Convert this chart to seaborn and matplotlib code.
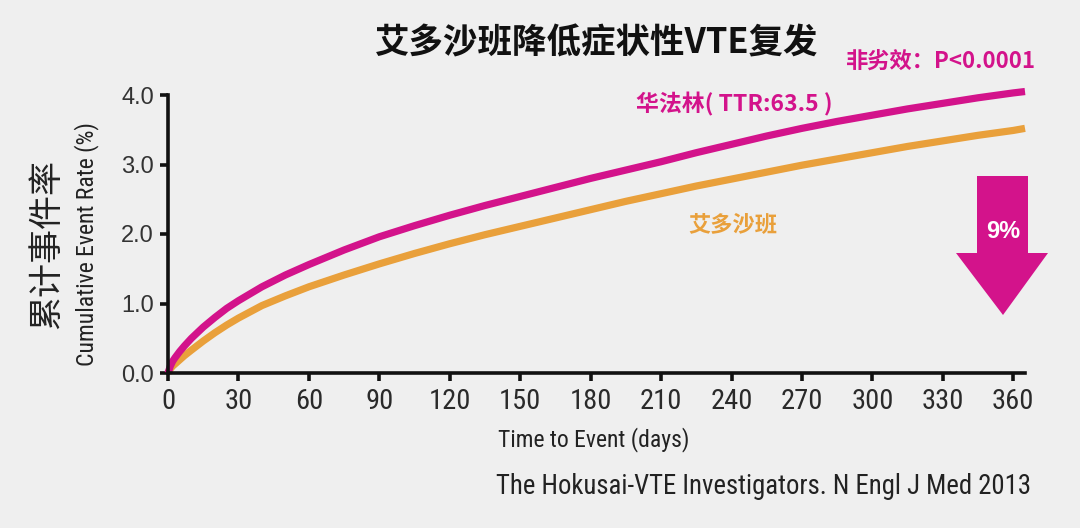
import numpy as np
import pandas as pd
import matplotlib
matplotlib.use("Agg")
import matplotlib.pyplot as plt
from matplotlib.patches import Polygon
import seaborn as sns
from matplotlib import font_manager

# ---- data ----
days = [0, 1, 2, 3, 5, 7, 10, 15, 20, 25, 30, 40, 50, 60, 75, 90, 105, 120, 135, 150, 165,
        180, 195, 210, 225, 240, 255, 270, 285, 300, 315, 330, 345, 360, 365]
warfarin = [0, 0.10, 0.17, 0.22, 0.31, 0.39, 0.50, 0.66, 0.80, 0.93, 1.04, 1.24, 1.41, 1.56,
            1.77, 1.96, 2.12, 2.27, 2.41, 2.54, 2.67, 2.80, 2.92, 3.04, 3.17, 3.29, 3.41, 3.52,
            3.62, 3.71, 3.80, 3.88, 3.96, 4.03, 4.05]
edoxaban = [0, 0.06, 0.10, 0.13, 0.19, 0.25, 0.33, 0.46, 0.58, 0.69, 0.79, 0.97, 1.11, 1.24,
            1.41, 1.57, 1.72, 1.86, 1.99, 2.11, 2.23, 2.35, 2.47, 2.58, 2.69, 2.79, 2.89, 2.99,
            3.08, 3.17, 3.26, 3.34, 3.42, 3.49, 3.52]
series_names = ["华法林", "艾多沙班"]
x_ticks = [0, 30, 60, 90, 120, 150, 180, 210, 240, 270, 300, 330, 360]
y_ticks = [0.0, 1.0, 2.0, 3.0, 4.0]
reduction_label = "9%"

MAGENTA = "#D3138B"
ORANGE = "#E9A03B"
BG = "#EFEFEF"

df = pd.DataFrame({
    "day": days + days,
    "rate": warfarin + edoxaban,
    "drug": [series_names[0]] * len(days) + [series_names[1]] * len(days),
})

sns.set_theme(style="ticks")
available = {f.name for f in font_manager.fontManager.ttflist}
cands = ["Roboto Condensed", "PT Sans Narrow", "Fira Sans Condensed", "Archivo Narrow",
         "IBM Plex Sans Condensed", "Open Sans Condensed", "Liberation Sans Narrow",
         "Encode Sans Condensed", "Barlow Condensed", "Asap Condensed"]
narrow = [f for f in cands if f in available][:1]
CJK = ["Noto Sans CJK SC", "DejaVu Sans"]
NARROW = narrow + ["Noto Sans CJK SC", "DejaVu Sans"]
ARIAL = ["Liberation Sans", "DejaVu Sans"]
plt.rcParams["font.family"] = CJK

fig = plt.figure(figsize=(10.8, 5.28), dpi=100, facecolor=BG)
ax = fig.add_axes([168 / 1080, 1 - 373 / 528, (1025 - 168) / 1080, (373 - 95) / 528])
ax.set_facecolor(BG)

sns.lineplot(data=df, x="day", y="rate", hue="drug",
             palette={series_names[0]: MAGENTA, series_names[1]: ORANGE},
             hue_order=[series_names[1], series_names[0]],
             linewidth=5.2, legend=False, ax=ax, clip_on=False)
for ln in ax.lines:
    ln.set_solid_capstyle("butt")
    ln.set_solid_joinstyle("round")

ax.set_xlim(0, 365)
ax.set_ylim(0, 4.0)
ax.set_xticks(x_ticks)
ax.set_xticklabels([str(t) for t in x_ticks], family=NARROW, fontsize=20.5, color="#2a2a2a")
ax.set_yticks(y_ticks)
ax.set_yticklabels([f"{t:.1f}" for t in y_ticks], family=ARIAL, fontsize=17, color="#333333")
for s in ["top", "right"]:
    ax.spines[s].set_visible(False)
for s in ["left", "bottom"]:
    ax.spines[s].set_linewidth(2.6)
    ax.spines[s].set_color("#111111")
ax.tick_params(axis="both", length=6, width=2.6, color="#111111")
ax.tick_params(axis="x", pad=5)
ax.tick_params(axis="y", pad=4)
ax.set_xlabel("")
ax.set_ylabel("")

# axis labels
fig.text(594 / 1080, 1 - 440 / 528, "Time to Event (days)", family=NARROW, fontsize=17,
         ha="center", va="center", color="#222222")
fig.text(47 / 1080, 1 - 244 / 528, "累计事件率", family=CJK, fontsize=24.5, rotation=90,
         ha="center", va="center", color="#222222")
fig.text(87 / 1080, 1 - 244 / 528, "Cumulative Event Rate (%)", family=NARROW, fontsize=17,
         rotation=90, ha="center", va="center", color="#222222")

# title
fig.text(597 / 1080, 1 - 43 / 528, "艾多沙班降低症状性VTE复发", family=CJK, fontsize=24.8,
         fontweight="bold", ha="center", va="center", color="#111111")
fig.text(1036 / 1080, 1 - 61 / 528, "非劣效：P<0.0001", family=CJK, fontsize=16,
         fontweight="bold", ha="right", va="center", color=MAGENTA)

# series labels
fig.text(636 / 1080, 1 - 104 / 528, "华法林( TTR:63.5 )", family=CJK, fontsize=16.5,
         fontweight="bold", ha="left", va="center", color=MAGENTA)
fig.text(688 / 1080, 1 - 226 / 528, "艾多沙班", family=CJK, fontsize=16,
         fontweight="bold", ha="left", va="center", color=ORANGE)

# arrow
pts = [(977, 176), (1028, 176), (1028, 253), (1048, 253), (1003, 315), (956, 253), (977, 253)]
arrow = Polygon([(x / 1080, 1 - y / 528) for x, y in pts], closed=True,
                transform=fig.transFigure, facecolor=MAGENTA, edgecolor="none")
fig.patches.append(arrow)
fig.text(1003 / 1080, 1 - 232 / 528, reduction_label, family=ARIAL, fontsize=17,
         fontweight="bold", ha="center", va="center", color="white")

# footer
fig.text(1031 / 1080, 1 - 487 / 528, "The Hokusai-VTE Investigators. N Engl J Med 2013",
         family=NARROW, fontsize=19.3, ha="right", va="center", color="#222222")

fig.savefig("out.png", dpi=100, facecolor=BG)
